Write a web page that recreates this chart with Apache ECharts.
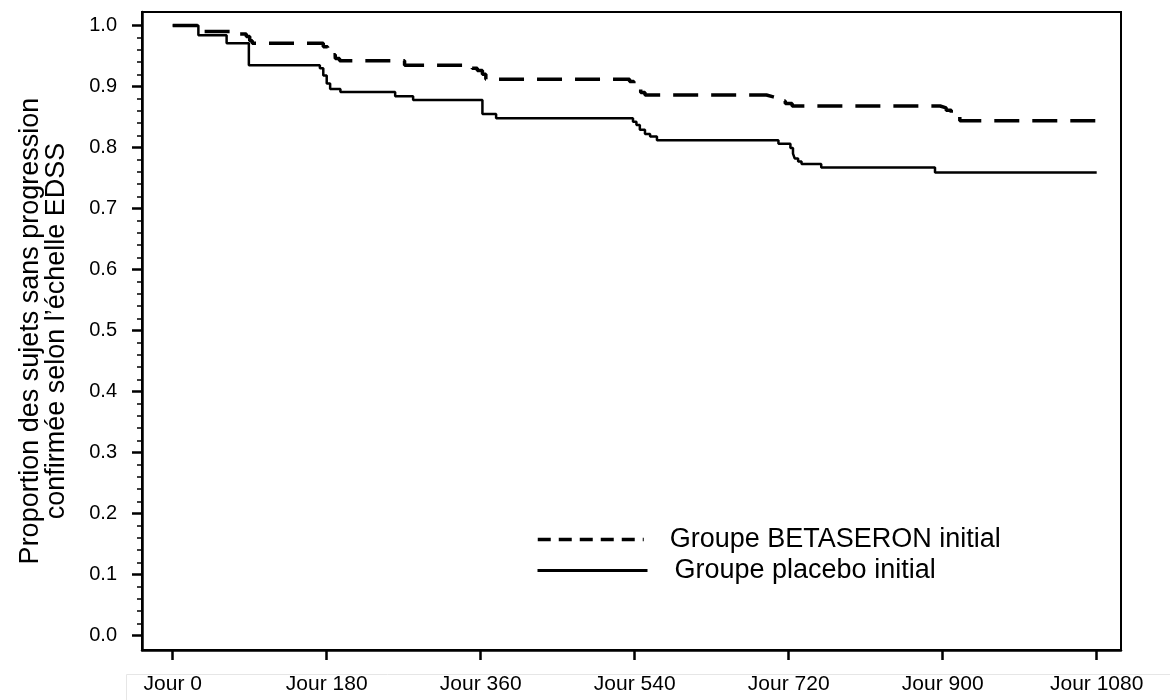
<!DOCTYPE html>
<html><head><meta charset="utf-8">
<script src="https://cdn.jsdelivr.net/npm/echarts@6/dist/echarts.min.js"></script>
<style>html,body{margin:0;padding:0;background:#fff}#c{width:1170px;height:700px}</style>
</head><body><div id="c"></div>
<script>
const xTicks = [0, 180, 360, 540, 720, 900, 1080];
const xTickLabels = ['Jour 0', 'Jour 180', 'Jour 360', 'Jour 540', 'Jour 720', 'Jour 900', 'Jour 1080'];
const yTicks = [0, 0.1, 0.2, 0.3, 0.4, 0.5, 0.6, 0.7, 0.8, 0.9, 1.0];
const yTickLabels = ['0.0', '0.1', '0.2', '0.3', '0.4', '0.5', '0.6', '0.7', '0.8', '0.9', '1.0'];
const yMinorTicks = [0.02,0.04,0.06,0.08,0.12,0.14,0.16,0.18,0.22,0.24,0.26,0.28,0.32,0.34,0.36,0.38,0.42,0.44,0.46,0.48,0.52,0.54,0.56,0.58,0.62,0.64,0.66,0.68,0.72,0.74,0.76,0.78,0.82,0.84,0.86,0.88,0.92,0.94,0.96,0.98];
const seriesNames = ['Groupe BETASERON initial', 'Groupe placebo initial'];
const yTitle = 'Proportion des sujets sans progression\nconfirmée selon l\u2019échelle EDSS';

const betaDays = [0, 30, 68, 86, 90, 93, 176, 181, 185, 190, 195, 271, 350, 356, 362, 366, 534, 539, 543, 547, 552, 694, 702, 710, 716, 724, 897, 904, 910, 914, 920, 1080];
const betaSurv = [1.0, 0.990, 0.986, 0.982, 0.975, 0.971, 0.965, 0.958, 0.952, 0.946, 0.942, 0.935, 0.930, 0.926, 0.920, 0.912, 0.908, 0.902, 0.896, 0.890, 0.886, 0.883, 0.880, 0.876, 0.872, 0.868, 0.865, 0.861, 0.856, 0.850, 0.844, 0.844];

const placeboDays = [0, 30, 63, 89, 172, 176, 180, 184, 196, 260, 281, 362, 378, 538, 542, 546, 552, 558, 566, 708, 722, 725, 727, 731, 735, 758, 891, 1080];
const placeboSurv = [1.0, 0.984, 0.971, 0.935, 0.930, 0.918, 0.905, 0.896, 0.891, 0.884, 0.878, 0.855, 0.848, 0.842, 0.837, 0.829, 0.822, 0.818, 0.812, 0.806, 0.799, 0.790, 0.782, 0.777, 0.773, 0.767, 0.759, 0.759];

const FONT = "'Liberation Sans', Arial, Helvetica, sans-serif";
const chart = echarts.init(document.getElementById('c'));
chart.setOption({
  animation: false,
  backgroundColor: '#fff',
  textStyle: { fontFamily: FONT, color: '#000' },
  grid: { left: 142, top: 12, right: 49, bottom: 50, show: true, borderColor: '#000', borderWidth: 2 },
  graphic: [{
    type: 'rect', silent: true,
    shape: { x: 126.5, y: 674.5, width: 1100, height: 60 },
    style: { fill: 'none', stroke: '#e6e6e6', lineWidth: 1 }
  }],
  xAxis: {
    type: 'value', min: -35.9, max: 1108.4,
    splitLine: { show: false },
    axisLine: { onZero: false, lineStyle: { color: '#000', width: 2.5 } },
    axisTick: { customValues: xTicks, length: 10, lineStyle: { color: '#000', width: 2.5 } },
    axisLabel: {
      customValues: xTicks, margin: 24, fontSize: 21, color: '#000', fontFamily: FONT,
      formatter: v => xTickLabels[xTicks.indexOf(v)]
    }
  },
  yAxis: [{
    type: 'value', min: -0.0238, max: 1.0221, position: 'left',
    splitLine: { show: false },
    axisLine: { onZero: false, lineStyle: { color: '#000', width: 2.5 } },
    axisTick: { customValues: yTicks, length: 10, lineStyle: { color: '#000', width: 2.5 } },
    axisLabel: {
      customValues: yTicks, margin: 25, fontSize: 20, color: '#000', fontFamily: FONT,
      formatter: v => yTickLabels[yTicks.findIndex(t => Math.abs(t - v) < 1e-6)]
    },
    name: yTitle, nameLocation: 'middle', nameRotate: 90, nameGap: 72,
    nameTextStyle: { fontSize: 27, lineHeight: 26, color: '#000', fontFamily: FONT }
  }, {
    type: 'value', min: -0.0238, max: 1.0221, position: 'left',
    splitLine: { show: false },
    axisLine: { show: false, onZero: false },
    axisTick: { customValues: yMinorTicks, length: 5, lineStyle: { color: '#000', width: 1.5 } },
    axisLabel: { show: false }
  }],
  legend: [{
    data: [{ name: seriesNames[0] }], left: 531, top: 521, itemWidth: 106, itemHeight: 14,
    selectedMode: false, lineStyle: { type: [13, 8], width: 3.5, color: '#000' },
    itemStyle: { opacity: 0 },
    textStyle: { fontSize: 27, color: '#000', fontFamily: FONT, padding: [0, 0, 0, 21] }
  }, {
    data: [{ name: seriesNames[1] }], left: 531, top: 552, itemWidth: 110, itemHeight: 14,
    selectedMode: false, lineStyle: { type: 'solid', width: 3, color: '#000' },
    itemStyle: { opacity: 0 },
    textStyle: { fontSize: 27, color: '#000', fontFamily: FONT, padding: [0, 0, 0, 22] }
  }],
  series: [{
    type: 'line', name: seriesNames[0], step: 'end', symbol: 'none',
    data: betaDays.map((d, i) => [d, betaSurv[i]]),
    lineStyle: { color: '#000', width: 3.5, type: [25, 13] }, itemStyle: { color: '#000' }
  }, {
    type: 'line', name: seriesNames[1], step: 'end', symbol: 'none',
    data: placeboDays.map((d, i) => [d, placeboSurv[i]]),
    lineStyle: { color: '#000', width: 2.5, type: 'solid' }, itemStyle: { color: '#000' }
  }]
});
</script></body></html>
